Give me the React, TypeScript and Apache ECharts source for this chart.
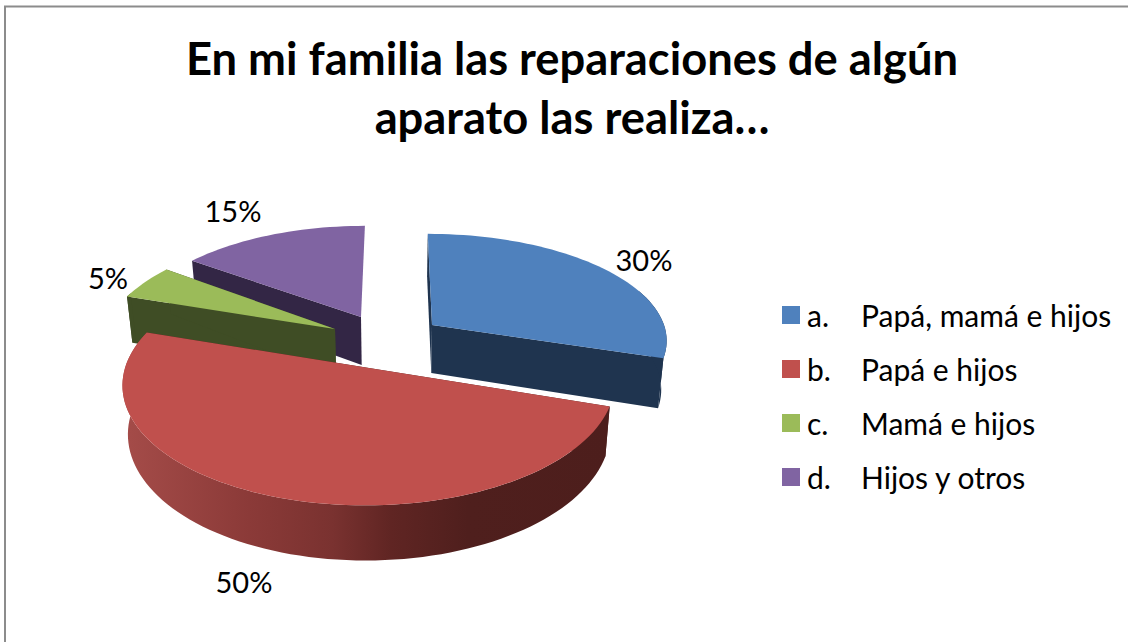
import React, { useEffect, useRef } from "react";
import * as echarts from "echarts";

const titleText = "En mi familia las reparaciones de algún\naparato las realiza…";
const categories = ["a.    Papá, mamá e hijos", "b.    Papá e hijos", "c.    Mamá e hijos", "d.    Hijos y otros"];
const values = [30, 50, 5, 15];

const FONT = "Lato";
const topColors = ["#4f81bd", "#c0504d", "#9bbb59", "#8064a2"];
const sideColors = ["#1f344f", "#4d1e1c", "#3f4d25", "#332645"];
// per slice placement of the exploded pieces: apex, radii, depth order, label centre
const placement = [
  { ax: 432, ay: 325, rx: 232, ry: 103, z: 3, lx: 644, ly: 259 },
  { ax: 369, ay: 368, rx: 244, ry: 119.5, z: 4, lx: 244, ly: 581 },
  { ax: 335, ay: 329, rx: 230, ry: 109, z: 2, lx: 108, ly: 277 },
  { ax: 361, ay: 317, rx: 228, ry: 103, z: 1, lx: 233, ly: 210 },
];
const VX = 395;
const PERSPECTIVE = 0.13;
const DEPTH = 48;
const BOTTOM_SCALE = 0.98;

const total = values.reduce((a, b) => a + b, 0);
const startFractions = values.map((_, i) => values.slice(0, i).reduce((a, b) => a + b, 0) / total);

type Pt = { top: [number, number]; bottom: [number, number]; y: number };

function project(i: number, deg: number, radius: number): Pt {
  const p = placement[i];
  const t = (deg * Math.PI) / 180;
  const X = Math.sin(t) * radius;
  const Y = Math.cos(t) * radius;
  const w = 1 + PERSPECTIVE * Y;
  const sx = VX + (p.ax - VX + p.rx * X) / w;
  const sy = p.ay - (p.ry * Y) / w;
  return { top: [sx, sy], bottom: [VX + (sx - VX) * BOTTOM_SCALE, sy + DEPTH / w], y: Y };
}

function sliceChildren(i: number, value: number) {
  const a0 = startFractions[i] * 360;
  const a1 = a0 + (value / total) * 360;
  const arc: Pt[] = [];
  const steps = Math.max(6, Math.ceil((a1 - a0) / 2));
  for (let s = 0; s <= steps; s++) arc.push(project(i, a0 + ((a1 - a0) * s) / steps, 1));
  const apex = project(i, 0, 0);
  const last = arc[arc.length - 1];
  const side = sideColors[i];
  const wallFill =
    i === 1
      ? new echarts.graphic.LinearGradient(0, 0, 1, 0, [
          { offset: 0, color: "#a54c49" },
          { offset: 0.26, color: "#8b3a38" },
          { offset: 0.43, color: "#7a3230" },
          { offset: 0.55, color: "#602523" },
          { offset: 0.71, color: "#4f1f1d" },
          { offset: 1, color: "#4d1e1c" },
        ])
      : side;
  const poly = (points: number[][], fill: any) => ({
    type: "polygon",
    shape: { points },
    style: { fill, stroke: "none" },
    silent: true,
  });
  const quad = (e: Pt) => poly([apex.top, e.top, e.bottom, apex.bottom], side);
  // only the part of the outer wall that faces the viewer is ever visible
  const facing = arc.filter((a) => a.y < 0.35);
  return [
    quad(arc[0]),
    ...(i === 3 ? [] : [quad(last)]),
    ...(facing.length > 1
      ? [poly([...facing.map((a) => a.top), ...facing.map((a) => a.bottom).reverse()], wallFill)]
      : []),
    poly([apex.top, ...arc.map((a) => a.top)], topColors[i]),
    {
      type: "text",
      silent: true,
      style: {
        x: placement[i].lx,
        y: placement[i].ly,
        text: `${value}%`,
        fill: "#000000",
        font: `29px ${FONT}`,
        align: "center",
        verticalAlign: "middle",
      },
    },
  ];
}

export default function App() {
  const ref = useRef<HTMLDivElement>(null);
  useEffect(() => {
    if (!ref.current) return;
    const chart = echarts.init(ref.current, undefined, { renderer: "svg" });
    chart.setOption({
      animation: false,
      backgroundColor: "#ffffff",
      title: {
        text: titleText,
        left: 567,
        top: 23,
        textAlign: "center",
        textStyle: { fontFamily: FONT, fontWeight: "bold", fontSize: 45.3, lineHeight: 59, color: "#000000" },
      },
      legend: {
        orient: "vertical",
        left: 782,
        top: 300,
        padding: 0,
        icon: "rect",
        itemWidth: 18,
        itemHeight: 18,
        itemGap: 24,
        selectedMode: false,
        data: categories,
        formatter: (name: string) => {
          const m = name.match(/^(\S+)\s+(.*)$/);
          return m ? `{p|${m[1]}}{q|${m[2]}}` : name;
        },
        textStyle: {
          fontFamily: FONT,
          fontSize: 30,
          color: "#000000",
          rich: {
            p: { width: 54, padding: [0, 0, 0, 2], fontFamily: FONT, fontSize: 30, color: "#000000", lineHeight: 36 },
            q: { fontFamily: FONT, fontSize: 30, color: "#000000", lineHeight: 36 },
          },
        },
      },
      graphic: [
        {
          type: "polyline",
          silent: true,
          shape: { points: [[5, 642], [5, 6.5], [1128, 6.5]] },
          style: { stroke: "#8c8c8c", lineWidth: 2, fill: "none" },
        },
      ],
      series: categories.map((name, i) => ({
        type: "custom",
        name,
        coordinateSystem: "none",
        z: placement[i].z,
        itemStyle: { color: topColors[i] },
        data: [values[i]],
        renderItem: (_p: any, api: any) => ({
          type: "group",
          children: sliceChildren(i, api.value(0)),
        }),
      })),
    });
    return () => chart.dispose();
  }, []);
  return <div ref={ref} style={{ position: "fixed", left: 0, top: 0, width: 1128, height: 642 }} />;
}
